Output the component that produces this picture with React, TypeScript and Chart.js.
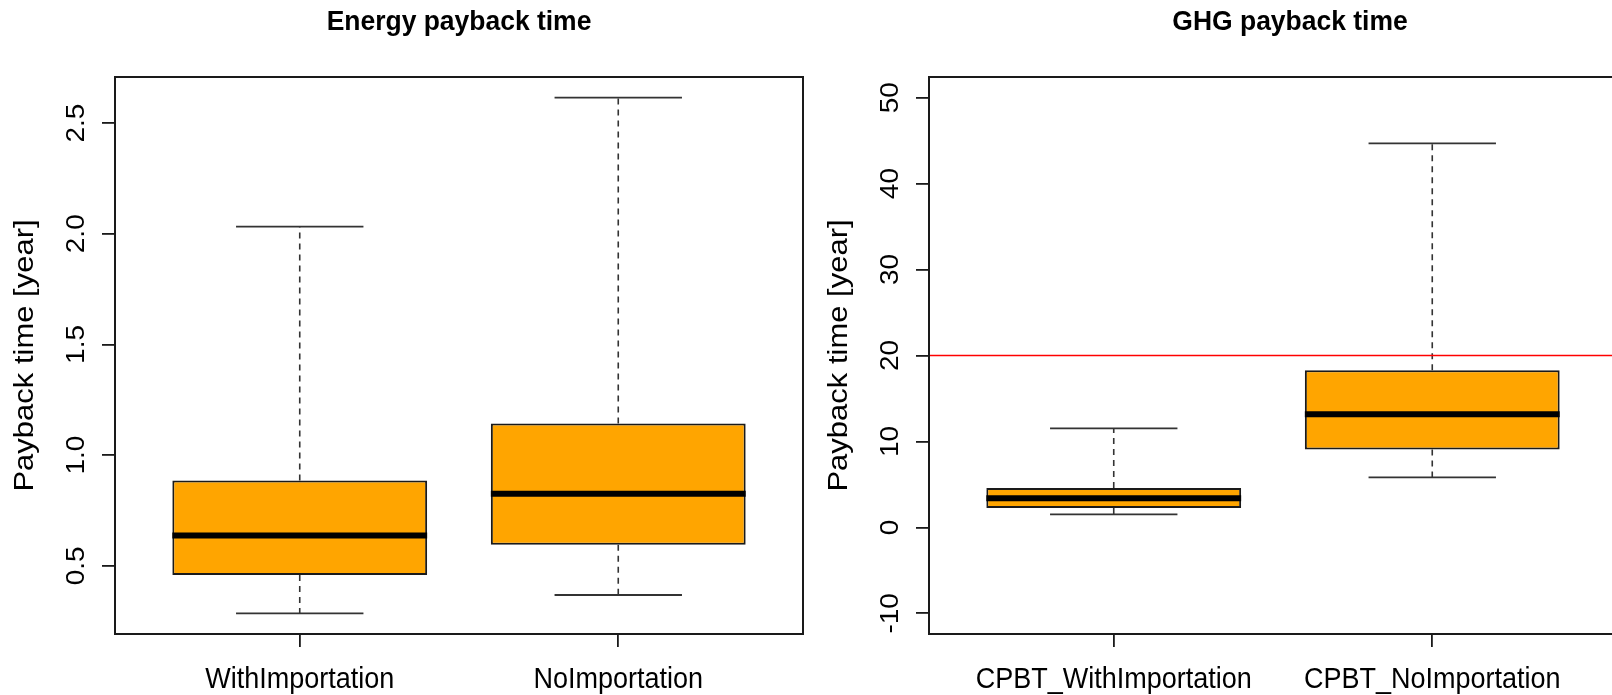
import React, { useEffect, useRef } from "react";
import { Chart, registerables } from "chart.js";

Chart.register(...registerables);

// ---------- Data: Energy payback time ----------
const energyTitle = "Energy payback time";
const energyCategories = ["WithImportation", "NoImportation"];
const energyLow = [0.285, 0.368];
const energyQ1 = [0.458, 0.595];
const energyMedian = [0.637, 0.825];
const energyQ3 = [0.885, 1.143];
const energyHigh = [2.032, 2.615];
const energyTicks = [0.5, 1.0, 1.5, 2.0, 2.5];
const energyTickLabels = ["0.5", "1.0", "1.5", "2.0", "2.5"];

// ---------- Data: GHG payback time ----------
const ghgTitle = "GHG payback time";
const ghgCategories = ["CPBT_WithImportation", "CPBT_NoImportation"];
const ghgLow = [1.51, 5.83];
const ghgQ1 = [2.26, 9.05];
const ghgMedian = [3.38, 13.16];
const ghgQ3 = [4.59, 18.28];
const ghgHigh = [11.52, 44.67];
const ghgTicks = [-10, 0, 10, 20, 30, 40, 50];
const ghgTickLabels = ["-10", "0", "10", "20", "30", "40", "50"];
const ghgLimits = [-10, 50];
const ghgThreshold = [20];

const yAxisLabel = "Payback time [year]";

const FONT = "'Liberation Sans', Arial, sans-serif";
const INK = "#1a1a1a";

type PanelProps = {
  title: string;
  titleShift: number;
  categories: string[];
  low: number[];
  q1: number[];
  median: number[];
  q3: number[];
  high: number[];
  ticks: number[];
  tickLabels: string[];
  limits: number[] | null;
  hlines: number[];
};

function drawText(
  ctx: CanvasRenderingContext2D,
  text: string,
  x: number,
  y: number,
  font: string,
  sx: number,
  sy: number,
  rotate: boolean
) {
  ctx.save();
  ctx.translate(x, y);
  if (rotate) ctx.rotate(-Math.PI / 2);
  ctx.scale(sx, sy);
  ctx.font = font;
  ctx.textAlign = "center";
  ctx.textBaseline = "alphabetic";
  ctx.fillStyle = "#000000";
  ctx.fillText(text, 0, 0);
  ctx.restore();
}

function Panel(p: PanelProps) {
  const ref = useRef<HTMLCanvasElement | null>(null);

  useEffect(() => {
    if (!ref.current) return;
    const n = p.categories.length;
    const xMin = 0.5 - 0.04 * n;
    const xMax = n + 0.5 + 0.04 * n;
    const lo = p.limits ? p.limits[0] : Math.min(...p.low);
    const hi = p.limits ? p.limits[1] : Math.max(...p.high);
    const yMin = lo - 0.04 * (hi - lo);
    const yMax = hi + 0.04 * (hi - lo);

    const extras = {
      id: "boxExtras",
      afterDatasetsDraw(chart: any) {
        const { ctx, chartArea: a } = chart;
        const xs = chart.scales.x;
        const ys = chart.scales.y;
        ctx.save();
        for (let i = 0; i < n; i++) {
          const cx = xs.getPixelForValue(i + 1);
          const staple = xs.getPixelForValue(i + 1.2) - cx;
          const half = xs.getPixelForValue(i + 1.4) - cx;
          const pLow = ys.getPixelForValue(p.low[i]);
          const pQ1 = ys.getPixelForValue(p.q1[i]);
          const pMed = ys.getPixelForValue(p.median[i]);
          const pQ3 = ys.getPixelForValue(p.q3[i]);
          const pHigh = ys.getPixelForValue(p.high[i]);
          // whiskers (dashed)
          ctx.strokeStyle = "#333333";
          ctx.lineWidth = 1.6;
          ctx.setLineDash([6, 5]);
          ctx.beginPath();
          ctx.moveTo(cx, pQ3);
          ctx.lineTo(cx, pHigh);
          ctx.moveTo(cx, pQ1);
          ctx.lineTo(cx, pLow);
          ctx.stroke();
          ctx.setLineDash([]);
          // staples
          ctx.lineWidth = 1.8;
          ctx.beginPath();
          ctx.moveTo(cx - staple, pHigh);
          ctx.lineTo(cx + staple, pHigh);
          ctx.moveTo(cx - staple, pLow);
          ctx.lineTo(cx + staple, pLow);
          ctx.stroke();
          // median
          ctx.strokeStyle = "#000000";
          ctx.lineWidth = 6;
          ctx.lineCap = "butt";
          ctx.beginPath();
          ctx.moveTo(cx - half, pMed);
          ctx.lineTo(cx + half, pMed);
          ctx.stroke();
        }
        // reference lines
        p.hlines.forEach((v) => {
          const py = ys.getPixelForValue(v);
          ctx.strokeStyle = "#FF0000";
          ctx.lineWidth = 1.5;
          ctx.beginPath();
          ctx.moveTo(a.left, py);
          ctx.lineTo(a.right, py);
          ctx.stroke();
        });
        // frame
        ctx.strokeStyle = INK;
        ctx.lineWidth = 2;
        ctx.strokeRect(a.left, a.top, a.right - a.left, a.bottom - a.top);
        ctx.restore();
      },
      afterDraw(chart: any) {
        const { ctx, chartArea: a } = chart;
        const xs = chart.scales.x;
        const ys = chart.scales.y;
        // title
        drawText(ctx, p.title, (a.left + a.right) / 2 + p.titleShift, 29.5,
          `bold 27px ${FONT}`, 0.98, 1, false);
        // x category labels
        p.categories.forEach((c, i) => {
          drawText(ctx, c, xs.getPixelForValue(i + 1), 688, `30px ${FONT}`, 0.9, 1, false);
        });
        // y tick labels (rotated, as in R)
        p.ticks.forEach((v, i) => {
          drawText(ctx, p.tickLabels[i], a.left - 31, ys.getPixelForValue(v),
            `28px ${FONT}`, 1, 0.95, true);
        });
        // y axis title
        drawText(ctx, yAxisLabel, a.left - 82, (a.top + a.bottom) / 2,
          `31px ${FONT}`, 1, 0.9, true);
      },
    };

    const chart = new Chart(ref.current, {
      type: "bar",
      data: {
        datasets: [
          {
            data: p.categories.map((_, i) => ({ x: i + 1, y: [p.q1[i], p.q3[i]] })) as any,
            backgroundColor: "#FFA500",
            borderColor: INK,
            borderWidth: 2,
            borderSkipped: false,
            categoryPercentage: 0.8,
            barPercentage: 1,
          },
        ],
      },
      options: {
        animation: false,
        responsive: false,
        events: [],
        layout: { padding: { top: 77, left: 0, right: 17, bottom: 0 } },
        plugins: {
          legend: { display: false },
          tooltip: { enabled: false },
          title: { display: false },
        },
        scales: {
          x: {
            type: "linear",
            min: xMin,
            max: xMax,
            offset: false,
            afterBuildTicks: (s: any) => {
              s.ticks = p.categories.map((_, i) => ({ value: i + 1 }));
            },
            afterFit: (s: any) => {
              s.height = 61;
            },
            grid: {
              display: true,
              offset: false,
              drawOnChartArea: false,
              drawTicks: true,
              tickLength: 13,
              color: INK,
              lineWidth: 1.8,
            },
            border: { display: false },
            ticks: { display: false },
          },
          y: {
            type: "linear",
            min: yMin,
            max: yMax,
            afterBuildTicks: (s: any) => {
              s.ticks = p.ticks.map((v) => ({ value: v }));
            },
            afterFit: (s: any) => {
              s.width = 115;
            },
            grid: {
              display: true,
              drawOnChartArea: false,
              drawTicks: true,
              tickLength: 13,
              color: INK,
              lineWidth: 1.8,
            },
            border: { display: false },
            ticks: { display: false },
          },
        },
      } as any,
      plugins: [extras],
    });
    return () => chart.destroy();
  }, []);

  return <canvas ref={ref} width={820} height={695} style={{ display: "block" }} />;
}

export default function App() {
  return (
    <div
      style={{
        position: "fixed",
        left: 0,
        top: 0,
        width: 1612,
        height: 695,
        overflow: "hidden",
        background: "#ffffff",
      }}
    >
      <div style={{ position: "absolute", left: 0, top: 0 }}>
        <Panel
          title={energyTitle}
          titleShift={0}
          categories={energyCategories}
          low={energyLow}
          q1={energyQ1}
          median={energyMedian}
          q3={energyQ3}
          high={energyHigh}
          ticks={energyTicks}
          tickLabels={energyTickLabels}
          limits={null}
          hlines={[]}
        />
      </div>
      <div style={{ position: "absolute", left: 814, top: 0 }}>
        <Panel
          title={ghgTitle}
          titleShift={17}
          categories={ghgCategories}
          low={ghgLow}
          q1={ghgQ1}
          median={ghgMedian}
          q3={ghgQ3}
          high={ghgHigh}
          ticks={ghgTicks}
          tickLabels={ghgTickLabels}
          limits={ghgLimits}
          hlines={ghgThreshold}
        />
      </div>
    </div>
  );
}
